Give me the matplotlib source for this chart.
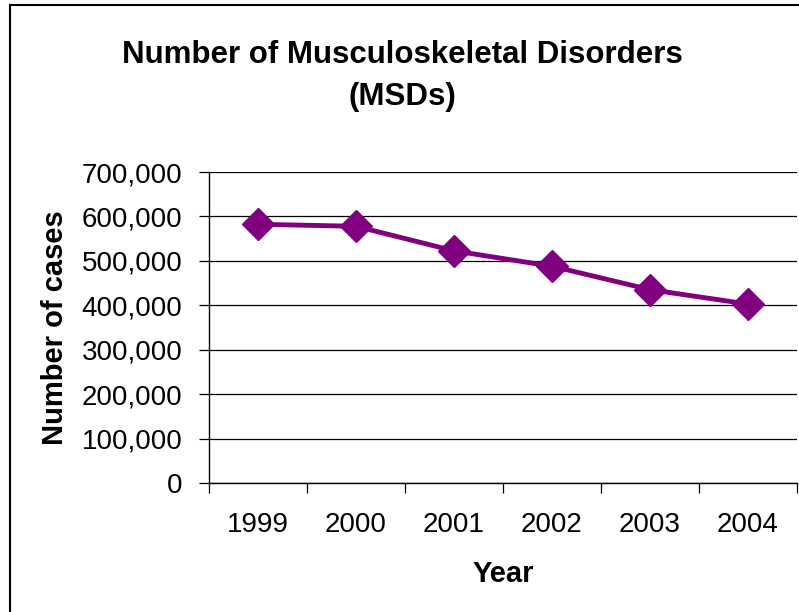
import matplotlib.pyplot as plt
from matplotlib.ticker import FuncFormatter
from matplotlib.patches import Rectangle

plt.rcParams['font.family'] = ['Liberation Sans', 'DejaVu Sans']

years = ['1999', '2000', '2001', '2002', '2003', '2004']
cases = [582340, 577814, 522528, 487915, 435180, 402700]

fig = plt.figure(figsize=(7.99, 6.12), dpi=100)
ax = fig.add_axes([209 / 799, 1 - 483 / 612, 588 / 799, 311 / 612])

xs = list(range(len(years)))
ax.plot(xs, cases, color='#800080', linewidth=3.5, marker='D', markersize=16,
        markeredgecolor='#800080', markerfacecolor='#800080', zorder=3)

ax.set_xlim(-0.5, len(years) - 0.5)
ax.set_ylim(0, 700000)
ax.set_yticks(range(0, 700001, 100000))
ax.yaxis.set_major_formatter(FuncFormatter(lambda v, p: f'{int(v):,}'))
ax.grid(axis='y', color='black', linewidth=0.9)
ax.set_axisbelow(True)

# category ticks sit between the years, labels sit under the centres
ax.set_xticks([x - 0.5 for x in range(len(years) + 1)])
ax.set_xticklabels([])
ax.set_xticks(xs, minor=True)
ax.set_xticklabels(years, minor=True)
ax.tick_params(axis='x', which='major', length=7, direction='out', width=0.9)
ax.tick_params(axis='x', which='minor', length=0, pad=21, labelsize=20)
ax.tick_params(axis='y', length=7, direction='out', width=0.9, labelsize=20, pad=12)

for side in ['top', 'right']:
    ax.spines[side].set_visible(False)
ax.spines['left'].set_linewidth(1)
ax.spines['bottom'].set_linewidth(1)

ax.set_xlabel('Year', fontsize=21, fontweight='bold', labelpad=16)
ax.set_ylabel('Number of cases', fontsize=21, fontweight='bold', labelpad=9)

fig.text(402 / 799, 1 - 76 / 612, 'Number of Musculoskeletal Disorders\n(MSDs)',
         ha='center', va='center', fontsize=22.5, fontweight='bold', linespacing=1.55)

# chart frame
fig.patches.append(Rectangle((10 / 799, -0.05), 1.2, 1.05 - 5 / 612,
                             transform=fig.transFigure, fill=False,
                             edgecolor='black', linewidth=1.5))

fig.savefig('out.png', dpi=100)
